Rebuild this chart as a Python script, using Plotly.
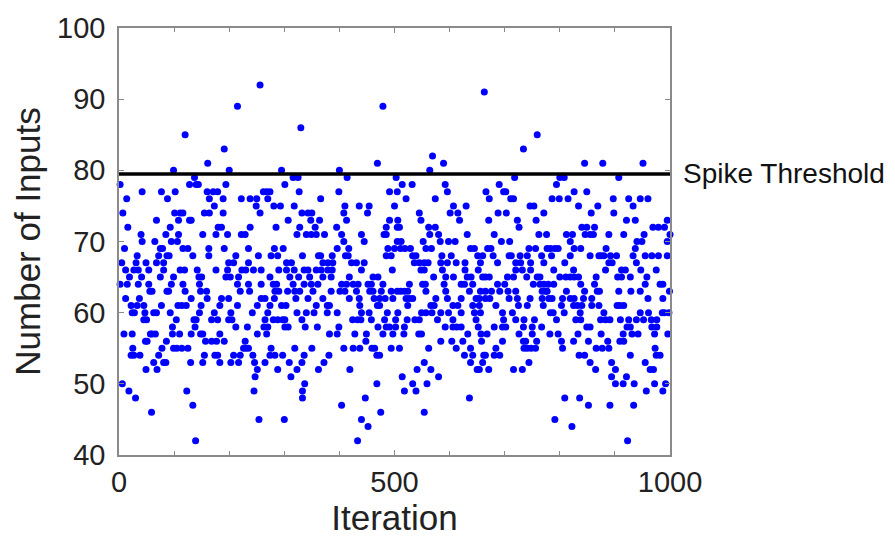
import plotly.graph_objects as go

# Iterations (x) at which each "number of inputs" value (y) was observed
lvl_92 = [256]
lvl_91 = [663]
lvl_89 = [215, 479]
lvl_86 = [330]
lvl_85 = [120, 759]
lvl_83 = [191, 734]
lvl_82 = [569]
lvl_81 = [161, 469, 589, 845, 878, 951]
lvl_80 = [99, 200, 295, 400, 564]
lvl_79 = [137, 316, 325, 414, 503, 718, 800, 808, 907]
lvl_78 = [2, 128, 140, 144, 194, 301, 514, 532, 592, 690, 794]
lvl_77 = [42, 77, 102, 160, 171, 179, 262, 268, 274, 327, 399, 491, 505, 596, 666, 698, 702, 826, 849]
lvl_76 = [14, 88, 164, 189, 222, 238, 250, 270, 366, 521, 574, 672, 711, 716, 786, 799, 815, 897, 925, 946, 960]
lvl_75 = [173, 249, 281, 293, 318, 410, 436, 454, 500, 607, 630, 746, 753, 834, 869, 933]
lvl_74 = [7, 101, 111, 116, 155, 164, 189, 256, 332, 343, 350, 408, 451, 545, 601, 615, 688, 703, 771, 857, 898]
lvl_73 = [68, 108, 128, 131, 307, 348, 364, 413, 491, 506, 548, 618, 671, 723, 757, 921, 937, 995]
lvl_72 = [16, 93, 180, 186, 238, 285, 328, 356, 395, 485, 505, 509, 562, 574, 726, 840, 849, 863, 969, 979, 990]
lvl_71 = [40, 85, 108, 152, 176, 197, 222, 229, 323, 340, 349, 358, 373, 404, 440, 481, 485, 564, 580, 632,
          681, 762, 776, 812, 823, 846, 855, 861, 889, 916, 953, 1000]
lvl_70 = [42, 65, 95, 106, 408, 445, 505, 512, 552, 583, 598, 610, 694, 709, 819, 940, 949, 995]
lvl_69 = [10, 75, 79, 116, 125, 163, 191, 235, 282, 298, 396, 417, 488, 500, 511, 519, 529, 557, 567, 638,
          645, 669, 675, 744, 756, 777, 783, 791, 797, 826, 838, 884, 937]
lvl_68 = [33, 72, 87, 91, 134, 163, 212, 253, 276, 288, 333, 362, 366, 387, 411, 416, 485, 494, 533, 539,
          586, 603, 651, 660, 679, 708, 712, 728, 741, 767, 785, 819, 855, 871, 875, 880, 892, 903, 933, 955,
          967, 979, 995]
lvl_67 = [5, 31, 49, 68, 81, 199, 208, 235, 304, 313, 370, 379, 388, 422, 431, 445, 536, 545, 554, 561,
          584, 596, 612, 628, 656, 687, 720, 729, 747, 771, 809, 889, 895, 939]
lvl_66 = [12, 27, 35, 54, 81, 111, 119, 142, 176, 197, 223, 230, 244, 258, 290, 304, 318, 336, 343, 358,
          367, 379, 387, 440, 496, 548, 554, 587, 628, 652, 720, 732, 747, 789, 825, 883, 912, 919, 947, 975]
lvl_65 = [19, 41, 75, 99, 145, 150, 194, 202, 217, 274, 310, 326, 346, 370, 385, 418, 461, 470, 571, 593,
          607, 632, 639, 660, 665, 672, 705, 716, 740, 759, 764, 800, 811, 819, 826, 834, 866, 905, 912, 928, 958]
lvl_64 = [2, 15, 35, 54, 95, 116, 146, 215, 235, 258, 280, 286, 316, 336, 349, 361, 404, 413, 425, 434,
          452, 458, 479, 527, 551, 556, 590, 621, 627, 642, 687, 700, 752, 764, 771, 779, 789, 838, 863, 955,
          982, 987]
lvl_63 = [56, 60, 87, 90, 120, 148, 159, 220, 237, 283, 290, 306, 319, 328, 352, 385, 401, 410, 431, 455,
          461, 476, 494, 505, 511, 518, 524, 557, 593, 636, 656, 665, 676, 691, 706, 720, 768, 774, 777, 812,
          845, 868, 872, 907, 929, 946, 999]
lvl_62 = [12, 37, 131, 160, 186, 199, 258, 265, 282, 321, 343, 370, 418, 436, 463, 473, 483, 497, 521, 527,
          533, 575, 596, 621, 648, 654, 665, 673, 708, 723, 746, 768, 780, 786, 805, 819, 826, 843, 858, 960, 987]
lvl_61 = [22, 33, 45, 77, 107, 114, 122, 149, 183, 215, 251, 274, 295, 303, 358, 378, 382, 437, 469, 473,
          524, 566, 572, 606, 615, 642, 654, 684, 725, 741, 770, 803, 825, 832, 840, 858, 871, 904, 909, 916]
lvl_60 = [24, 28, 47, 63, 68, 93, 146, 173, 203, 242, 270, 323, 340, 354, 378, 396, 440, 454, 487, 506,
          549, 557, 568, 584, 598, 621, 645, 656, 696, 714, 783, 788, 808, 837, 880, 946, 961, 986, 990, 998]
lvl_59 = [45, 50, 104, 136, 140, 168, 179, 199, 205, 265, 280, 288, 297, 301, 332, 424, 433, 439, 458, 482,
          502, 523, 537, 545, 578, 606, 648, 698, 720, 735, 754, 794, 829, 838, 874, 883, 891, 910, 925, 939,
          952, 966, 976]
lvl_58 = [97, 138, 212, 233, 263, 270, 301, 307, 338, 360, 399, 470, 485, 491, 502, 518, 592, 606, 613, 621,
          652, 681, 696, 702, 734, 750, 767, 849, 855, 922, 928, 967, 976]
lvl_57 = [9, 24, 57, 60, 66, 97, 110, 131, 148, 152, 183, 251, 268, 382, 396, 428, 449, 479, 497, 517,
          544, 549, 633, 657, 668, 726, 750, 782, 797, 833, 875, 915, 931, 942, 972, 996]
lvl_56 = [48, 51, 86, 157, 168, 177, 191, 229, 448, 584, 604, 624, 658, 696, 734, 738, 758, 803, 825, 852,
          887, 909, 916]
lvl_55 = [25, 78, 99, 105, 114, 125, 226, 230, 235, 276, 319, 350, 408, 425, 437, 459, 464, 494, 509, 562,
          612, 638, 684, 735, 741, 748, 756, 805, 866, 877, 889, 973]
lvl_54 = [22, 27, 38, 72, 155, 174, 179, 208, 220, 243, 274, 283, 297, 336, 381, 468, 473, 627, 642, 662,
          665, 681, 691, 835, 845, 928, 975, 982]
lvl_53 = [63, 81, 85, 130, 152, 183, 203, 217, 246, 265, 309, 332, 372, 554, 638, 660, 744, 855, 894, 955]
lvl_52 = [49, 69, 251, 288, 323, 362, 419, 541, 566, 650, 654, 671, 716, 732, 865, 901, 964, 970]
lvl_51 = [247, 312, 514, 580, 894, 921]
lvl_50 = [6, 337, 468, 533, 559, 901, 915, 935, 972, 992]
lvl_49 = [18, 123, 245, 333, 518, 539, 957, 987]
lvl_48 = [30, 333, 447, 636, 809, 836]
lvl_47 = [134, 404, 852, 891, 934]
lvl_46 = [59, 475, 554]
lvl_45 = [254, 300, 440, 791]
lvl_44 = [452, 822]
lvl_42 = [139, 433, 923]

levels = {
    92: lvl_92, 91: lvl_91, 89: lvl_89, 86: lvl_86, 85: lvl_85, 83: lvl_83, 82: lvl_82,
    81: lvl_81, 80: lvl_80, 79: lvl_79, 78: lvl_78, 77: lvl_77, 76: lvl_76, 75: lvl_75,
    74: lvl_74, 73: lvl_73, 72: lvl_72, 71: lvl_71, 70: lvl_70, 69: lvl_69, 68: lvl_68,
    67: lvl_67, 66: lvl_66, 65: lvl_65, 64: lvl_64, 63: lvl_63, 62: lvl_62, 61: lvl_61,
    60: lvl_60, 59: lvl_59, 58: lvl_58, 57: lvl_57, 56: lvl_56, 55: lvl_55, 54: lvl_54,
    53: lvl_53, 52: lvl_52, 51: lvl_51, 50: lvl_50, 49: lvl_49, 48: lvl_48, 47: lvl_47,
    46: lvl_46, 45: lvl_45, 44: lvl_44, 42: lvl_42,
}

spike_threshold = 79.5
x_ticks = [0, 500, 1000]
y_ticks = [40, 50, 60, 70, 80, 90, 100]

iteration, inputs = [], []
for value, its in levels.items():
    iteration += its
    inputs += [value] * len(its)

FONT = "Liberation Sans, Arial, sans-serif"
AX = "#8a8a8a"

fig = go.Figure()
fig.add_trace(go.Scatter(
    x=iteration, y=inputs, mode="markers",
    marker=dict(color="#0000ff", size=7, line=dict(width=0)),
    cliponaxis=False, showlegend=False,
))
fig.add_shape(type="line", xref="x", yref="y", x0=0, x1=1000,
              y0=spike_threshold, y1=spike_threshold,
              line=dict(color="black", width=3.5))
fig.add_annotation(text="Spike Threshold", xref="paper", yref="y",
                   x=1.02, y=spike_threshold, xanchor="left", yanchor="middle",
                   showarrow=False, font=dict(family=FONT, size=28, color="#111"))

axis_common = dict(
    showgrid=False, zeroline=False, showline=True, linecolor=AX, linewidth=1.5,
    mirror="allticks", ticks="inside", ticklen=5, tickcolor=AX, tickwidth=1,
    tickfont=dict(family=FONT, size=29, color="#222"),
)
fig.update_xaxes(range=[0, 1000], tickvals=x_ticks, ticktext=[str(v) for v in x_ticks],
                 minor=dict(tickvals=list(range(100, 1000, 100)), ticks="inside",
                            ticklen=4, tickcolor=AX),
                 title=dict(text="Iteration", font=dict(family=FONT, size=35, color="#222"),
                            standoff=6),
                 **axis_common)
fig.update_yaxes(range=[40, 100], tickvals=y_ticks, ticktext=[str(v) for v in y_ticks],
                 ticklabelstandoff=6,
                 title=dict(text="Number of Inputs", font=dict(family=FONT, size=35, color="#222"),
                            standoff=6),
                 **axis_common)
fig.update_layout(
    width=895, height=540, margin=dict(l=119, r=225, t=26, b=84),
    plot_bgcolor="white", paper_bgcolor="white",
)
fig.write_html("out.html")
